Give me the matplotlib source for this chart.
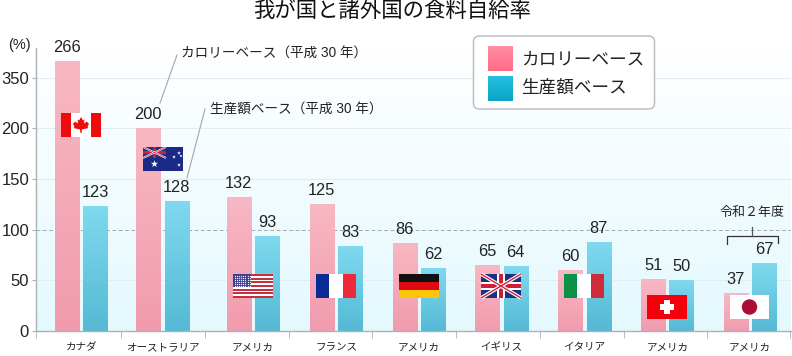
import numpy as np
import matplotlib
matplotlib.use('Agg')
import matplotlib.pyplot as plt
from matplotlib.colors import LinearSegmentedColormap
from matplotlib.patches import Rectangle, FancyBboxPatch, Circle, Polygon

plt.rcParams['font.family'] = ['Liberation Sans', 'Noto Sans CJK JP', 'DejaVu Sans']

countries = ['カナダ', 'オーストラリア', 'アメリカ', 'フランス', 'アメリカ', 'イギリス', 'イタリア', 'アメリカ', 'アメリカ']
calorie = [266, 200, 132, 125, 86, 65, 60, 51, 37]
production = [123, 128, 93, 83, 62, 64, 87, 50, 67]
y_ticks = [0, 50, 100, 150, 200, 250]
y_labels = ['0', '50', '100', '150', '200', '350']

# x axis is in pixels of the picture, makes the layout simple
group_x = [81.2, 162.5, 253, 336, 419, 501.5, 584.5, 667.4, 750]
cell_edges = [36, 121, 204.7, 288.5, 372, 455.6, 539.7, 623.5, 706.5, 790]
bar_w = 24.5
gap = 4

W, H = 792, 356
fig = plt.figure(figsize=(W / 100, H / 100), dpi=100, facecolor='white')
y0, ytop = 331, 48
ax = fig.add_axes([36 / W, 1 - y0 / H, (791 - 36) / W, (y0 - ytop) / H])
ax.set_facecolor('none')
ax.set_xlim(36, 791)
ax.set_ylim(0, (y0 - ytop) / 1.0128)
ymax = ax.get_ylim()[1]

bg = LinearSegmentedColormap.from_list('bg', ['#ffffff', '#f2fcff', '#e3f9fe'])
ax.imshow(np.linspace(0, 1, 200).reshape(-1, 1), cmap=bg, aspect='auto',
          extent=[36, 791, 0, ymax], origin='upper', zorder=0)

for t in y_ticks[1:]:
    if t == 100:
        ax.axhline(t, color='#a3abae', lw=0.7, ls=(0, (4, 2.5)), zorder=1)
    else:
        ax.axhline(t, color='#e2edf0', lw=0.8, zorder=1)

pink = LinearSegmentedColormap.from_list('pink', ['#f8b8c3', '#f19bae'])
blue = LinearSegmentedColormap.from_list('blue', ['#7fd9ef', '#55b9d4'])
grad = np.linspace(0, 1, 100).reshape(-1, 1)


def grad_bars(xs, vals, cmap):
    for x, v in zip(xs, vals):
        im = ax.imshow(grad, cmap=cmap, aspect='auto', origin='upper',
                       extent=[x - bar_w / 2, x + bar_w / 2, -1, v], zorder=2)
        im.set_clip_on(False)
        ax.annotate(str(v), (x, v), xytext=(0, 14 * 0.72), textcoords='offset points',
                    ha='center', va='center', fontsize=11.8, color='#222222', zorder=5)


pink_x = [x - gap / 2 - bar_w / 2 for x in group_x]
blue_x = [x + gap / 2 + bar_w / 2 for x in group_x]
grad_bars(pink_x, calorie, pink)
grad_bars(blue_x, production, blue)
ax.set_xlim(36, 791)
ax.set_ylim(0, ymax)

for s in ['top', 'right']:
    ax.spines[s].set_visible(False)
for s in ['left', 'bottom']:
    ax.spines[s].set_color('#a9b2b5')
    ax.spines[s].set_linewidth(1)
ax.set_yticks(y_ticks)
ax.set_yticklabels(y_labels, fontsize=12, color='#222222')
ax.tick_params(axis='y', length=3, color='#a9b2b5', pad=2)
ax.set_xticks(cell_edges, minor=True)
ax.tick_params(axis='x', which='minor', length=5, color='#a9b2b5')
ax.set_xticks(group_x)
ax.set_xticklabels(countries, fontsize=7.6, color='#222222')
ax.tick_params(axis='x', which='major', length=0, pad=8)

# overlay in picture pixels for flags, notes and legend
ov = fig.add_axes([0, 0, 1, 1], zorder=10)
ov.set_xlim(0, W)
ov.set_ylim(H, 0)
ov.axis('off')
ov.patch.set_alpha(0)


def rect(x, y, w, h, c, **kw):
    ov.add_patch(Rectangle((x, y), w, h, facecolor=c, edgecolor='none', **kw))


def canada(x, y):
    rect(x, y, 40, 24, '#ffffff')
    rect(x, y, 10, 24, '#f00a0a')
    rect(x + 30, y, 10, 24, '#f00a0a')
    leaf = [(0, -8), (2, -4.5), (3.5, -5.5), (3, -1.5), (6, -3.5), (7, -2), (8, -1.5), (6.5, 2), (7.5, 3),
            (1, 4.5), (0.5, 8), (-0.5, 8), (-1, 4.5), (-7.5, 3), (-6.5, 2), (-8, -1.5), (-7, -2), (-6, -3.5),
            (-3, -1.5), (-3.5, -5.5), (-2, -4.5)]
    ov.add_patch(Polygon([(x + 20 + a, y + 12 + b) for a, b in leaf], facecolor='#f00a0a', edgecolor='none'))


def union(x, y, w, h, lw=1.0):
    rect(x, y, w, h, '#1d2f7f')
    ov.plot([x, x + w], [y, y + h], color='white', lw=lw * 2.2, solid_capstyle='butt')
    ov.plot([x, x + w], [y + h, y], color='white', lw=lw * 2.2, solid_capstyle='butt')
    ov.plot([x, x + w], [y, y + h], color='#cf1f38', lw=lw * 0.8, solid_capstyle='butt')
    ov.plot([x, x + w], [y + h, y], color='#cf1f38', lw=lw * 0.8, solid_capstyle='butt')
    rect(x + w / 2 - h * 0.17, y, h * 0.34, h, 'white')
    rect(x, y + h * 0.33, w, h * 0.34, 'white')
    rect(x + w / 2 - h * 0.1, y, h * 0.2, h, '#cf1f38')
    rect(x, y + h * 0.4, w, h * 0.2, '#cf1f38')


def australia(x, y):
    rect(x, y, 40, 24, '#1b2a86')
    union(x, y, 23, 11, 0.6)
    ov.scatter([x + 11.5, x + 36, x + 36, x + 31, x + 38], [y + 17, y + 6, y + 18, y + 10, y + 9],
               marker='*', c='white', s=[30, 8, 8, 8, 6], linewidths=0, zorder=6)


def usa(x, y):
    rect(x, y, 40, 24, '#ffffff')
    for i in range(0, 13, 2):
        rect(x, y + i * 24 / 13, 40, 24 / 13, '#c4303f')
    rect(x, y, 18, 13, '#3d3f8c')
    xs, ys = np.meshgrid(np.arange(x + 1.5, x + 18, 2.2), np.arange(y + 1.5, y + 13, 2))
    ov.scatter(xs.ravel(), ys.ravel(), s=0.9, c='#e6e6f2', linewidths=0, zorder=6)


def france(x, y):
    rect(x, y, 13.3, 24, '#0a2a94')
    rect(x + 13.3, y, 13.3, 24, '#ffffff')
    rect(x + 26.6, y, 13.4, 24, '#ee2a3a')


def germany(x, y):
    rect(x, y, 40, 8, '#111111')
    rect(x, y + 8, 40, 8, '#dd0a14')
    rect(x, y + 16, 40, 8, '#fdc60a')


def uk(x, y):
    union(x, y, 40, 24, 1.2)


def italy(x, y):
    rect(x, y, 13.3, 24, '#0a9148')
    rect(x + 13.3, y, 13.3, 24, '#ffffff')
    rect(x + 26.6, y, 13.4, 24, '#cf2b3a')


def swiss(x, y):
    rect(x, y, 40, 24, '#f4000c')
    rect(x + 17, y + 5, 6, 14, '#ffffff')
    rect(x + 13, y + 9, 14, 6, '#ffffff')


def japan(x, y):
    rect(x, y, 39, 24, '#ffffff')
    ov.add_patch(Circle((x + 19.5, y + 12), 7.7, facecolor='#ad0d35', edgecolor='none'))


canada(61, 113)
australia(143, 147)
usa(233, 274)
france(316, 274)
germany(399, 274)
uk(481, 274)
italy(564, 274)
swiss(647, 295)
japan(730, 295)

ov.text(392, 11, '我が国と諸外国の食料自給率', ha='center', va='center', fontsize=15.4, color='#111111')
ov.text(19, 45, '(%)', ha='center', va='center', fontsize=10.5, color='#222222')
ov.text(181, 53, 'カロリーベース（平成 30 年）', ha='left', va='center', fontsize=9.8, color='#222222')
ov.text(210, 109, '生産額ベース（平成 30 年）', ha='left', va='center', fontsize=9.8, color='#222222')
ov.plot([177, 160], [55, 103], color='#a0a8aa', lw=0.8)
ov.plot([205, 187], [109, 178], color='#a0a8aa', lw=0.8)

ov.text(752, 213, '令和２年度', ha='center', va='center', fontsize=9.4, color='#222222')
ov.plot([727, 727, 777.5, 777.5], [244, 235.5, 235.5, 243], color='#333333', lw=0.9)
ov.plot([752, 752], [227, 235.5], color='#555555', lw=0.9)

ov.add_patch(FancyBboxPatch((479, 41.5), 170, 62, boxstyle='round,pad=5.5,rounding_size=6',
                            facecolor='white', edgecolor='#b5babc', lw=1))
pink_leg = LinearSegmentedColormap.from_list('pl', ['#ff8fa3', '#ff6b88'])
blue_leg = LinearSegmentedColormap.from_list('bl', ['#25c0e0', '#0aa3c6'])
ov.imshow(grad, cmap=pink_leg, extent=[488, 513, 71, 46], aspect='auto', origin='upper', zorder=4)
ov.imshow(grad, cmap=blue_leg, extent=[488, 513, 101, 76], aspect='auto', origin='upper', zorder=4)
ov.set_xlim(0, W)
ov.set_ylim(H, 0)
ov.text(521, 60, 'カロリーベース', ha='left', va='center', fontsize=12.7, color='#222222', zorder=5)
ov.text(521, 88, '生産額ベース', ha='left', va='center', fontsize=12.7, color='#222222', zorder=5)

fig.savefig('out.png', dpi=100)
